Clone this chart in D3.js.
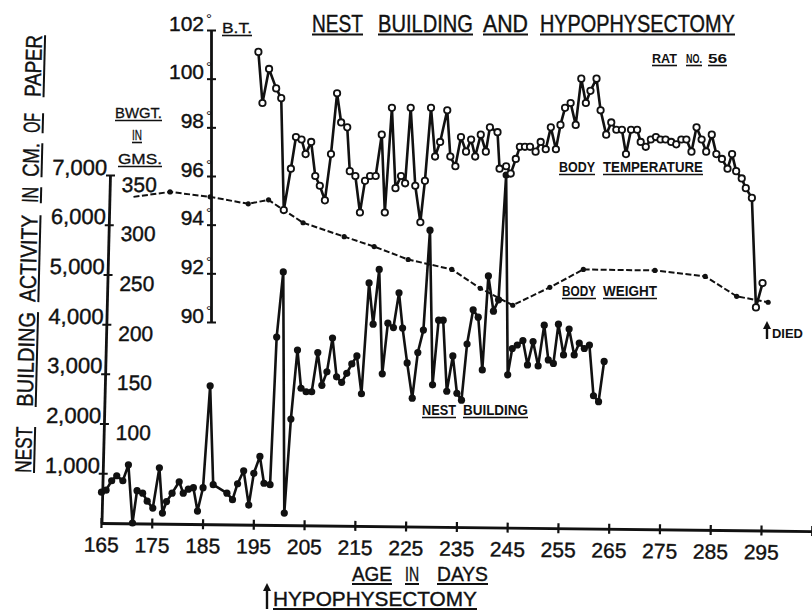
<!DOCTYPE html>
<html><head><meta charset="utf-8">
<script src="https://cdn.jsdelivr.net/npm/d3@7"></script>
<style>body{margin:0;background:#fff}svg{display:block}</style>
</head><body>
<svg id="c" width="812" height="611"></svg>
<script>
// ---------- DATA ----------
const nbDays = [165.1,166.0,167.1,168.1,169.3,170.4,171.2,172.1,173.2,174.1,
 175.2,176.5,177.1,177.9,179.0,180.4,181.2,182.2,183.2,184.0,
 185.1,186.5,187.1,189.8,190.9,191.9,193.1,194.1,195.1,196.3,
 197.1,198.3,199.6,200.9,201.1,202.4,203.7,204.4,205.4,206.5,
 207.7,208.5,209.5,210.6,211.4,212.4,213.4,214.4,215.4,216.3,
 217.8,218.6,219.8,220.4,221.5,222.6,223.7,224.4,225.3,226.3,
 227.4,228.5,229.8,230.3,231.5,232.4,233.1,234.3,235.1,236.0,
 237.1,238.3,239.3,240.1,241.3,242.3,243.3,244.8,245.1,246.0,
 247.0,248.1,249.0,250.1,251.1,252.3,253.1,254.1,255.1,256.1,
 257.2,258.2,259.2,260.2,261.2,262.0,263.0,264.1];
const nbValues = [620,660,850,950,850,1170,0,650,600,440,
 300,1110,200,430,600,830,600,680,710,240,
 710,2760,770,600,470,790,1050,360,1000,1340,
 800,770,3740,5050,200,2090,3480,2710,2640,2640,
 3430,2770,3040,3720,2940,2830,3010,3200,3360,2600,
 4830,4000,5100,3000,4020,3930,4630,3920,3220,2510,
 3430,3880,5890,2780,4080,4080,2650,3360,2610,2470,
 3600,4290,4140,3080,4970,4260,4490,7000,2980,3510,
 3580,3670,3180,3650,3160,3980,3280,3210,4000,3380,
 3900,3380,3620,3510,3580,2560,2440,3250];

const btDays = [196.0,196.8,198.1,199.5,200.5,201.0,202.4,203.4,204.5,205.3,
 206.4,207.2,208.1,209.1,210.3,211.5,212.3,213.5,214.0,215.1,
 216.0,217.0,218.0,219.1,220.3,220.9,222.3,223.0,224.1,224.9,
 226.0,226.9,227.9,228.8,230.0,230.8,231.8,233.2,233.8,234.8,
 235.9,236.9,237.9,238.7,239.8,240.8,241.6,243.1,243.5,244.8,
 245.7,246.7,247.5,248.5,249.5,250.6,251.6,252.6,253.6,254.6,
 255.5,256.4,257.5,258.5,259.6,260.5,261.4,262.6,263.4,264.5,
 265.5,266.5,267.6,268.4,269.4,270.6,271.3,272.3,273.3,274.3,
 275.2,276.2,277.3,278.3,279.3,280.3,281.3,282.3,283.3,284.2,
 285.3,286.2,287.3,288.4,289.3,290.1,291.2,292.0,293.2,294.0,
 295.3];
const btValues = [101.1,99.0,100.4,99.6,99.2,94.6,96.3,97.6,97.5,96.9,
 97.4,96.0,95.6,95.0,96.9,99.4,98.2,98.0,96.2,96.0,
 94.5,95.8,96.0,96.0,97.7,94.5,98.8,95.5,96.0,95.7,
 98.8,95.6,94.1,95.8,98.8,96.8,97.4,98.7,96.8,96.4,
 97.6,97.0,97.5,96.8,97.7,97.0,98.0,97.8,96.3,96.4,
 96.1,96.7,97.2,97.2,97.2,97.0,97.4,97.1,98.0,97.1,
 98.1,98.8,99.0,98.1,100.0,99.0,99.5,100.0,98.7,97.7,
 98.2,97.9,97.9,96.9,97.9,97.9,97.4,97.2,97.5,97.6,
 97.5,97.5,97.4,97.3,97.5,97.5,97.0,98.0,97.5,97.0,
 97.7,96.9,96.7,96.3,96.9,96.2,95.9,95.5,95.1,90.6,
 91.6];

const bwDays = [171.4,178.6,186.5,194.0,198.0,200.9,204.8,212.9,218.8,225.5,234.1,239.7,246.1,253.4,260.0,274.1,284.0,290.2,296.4];
const bwValues = [328,333,328,321,325,315,302,288,278,265,255,236,219,237,255,254,248,228,222];

const xTicks = [165,175,185,195,205,215,225,235,245,255,265,275,285,295,305];
const xTickLabels = ["165","175","185","195","205","215","225","235","245","255","265","275","285","295",""];
const nbTicks = [1000,2000,3000,4000,5000,6000,7000];
const bwTicks = [100,150,200,250,300,350];
const btTicks = [90,92,94,96,98,100,102];

// ---------- SETUP ----------
const FONT = "'Liberation Sans', Arial, sans-serif";
const INK = "#111";
const svg = d3.select("#c").style("font-family", FONT).attr("fill", INK);

const x = d3.scaleLinear().domain([165, 305]).range([101, 811.8]);
const yNB = d3.scaleLinear().domain([0, 7000]).range([523, 175]);
const yBW = d3.scaleLinear().domain([0, 350]).range([523, 175]);
const yBT = d3.scaleLinear().domain([90, 102]).range([322, 30]);

// word drawn at natural size, then scaled horizontally to fit [x0,x1]; underlined
function words(g, list, y, fs, weight, ul, sw) {
  list.forEach(([t, x0, x1]) => {
    const tx = g.append("text").attr("x", 0).attr("y", 0).attr("font-size", fs)
      .attr("font-weight", weight).attr("fill", INK)
      .attr("stroke", INK).attr("stroke-width", sw || 0).text(t);
    const w = tx.node().getComputedTextLength();
    tx.attr("transform", `translate(${x0},${y}) scale(${(x1 - x0) / w},1)`);
    g.append("line").attr("x1", x0).attr("x2", x1).attr("y1", y + ul).attr("y2", y + ul)
      .attr("stroke", INK).attr("stroke-width", fs > 18 ? 2 : 1.6);
  });
}

// ---------- X AXIS ----------
const xa = d3.scaleLinear().domain([165, 305]).range([0, 710.8]);
const gx = svg.append("g").attr("transform", "translate(101,523) rotate(0.65)")
  .call(d3.axisBottom(xa).tickValues(xTicks)
    .tickFormat((d, i) => xTickLabels[i]).tickSizeOuter(0).tickSizeInner(5));
gx.select(".domain").attr("stroke", INK).attr("stroke-width", 2.8);
gx.selectAll(".tick line").attr("y1", -5).attr("y2", 5).attr("stroke", INK).attr("stroke-width", 2.2);
gx.selectAll(".tick text").attr("y", 29).attr("dy", 0).attr("font-size", 21)
  .attr("font-family", FONT).attr("fill", INK).attr("stroke", INK).attr("stroke-width", 0.4);

// ---------- NEST BUILDING / BODY WEIGHT AXIS ----------
const yn = d3.scaleLinear().domain([0, 7000]).range([0, -348]);
const ybl = d3.scaleLinear().domain([0, 350]).range([0, -348]);
const gy = svg.append("g").attr("transform", "translate(101.5,523) skewX(-1.4)");
const gyA = gy.append("g").call(d3.axisLeft(yn).tickValues(nbTicks)
  .tickFormat(d3.format(",")).tickSizeOuter(0).tickSizeInner(4));
gyA.select(".domain").attr("stroke", INK).attr("stroke-width", 2.8);
gyA.selectAll(".tick line").attr("x1", -4).attr("x2", 5).attr("stroke", INK).attr("stroke-width", 2);
gyA.selectAll(".tick text").attr("x", -3).attr("y", -1).attr("dy", 0)
  .attr("font-size", 22).attr("font-family", FONT).attr("fill", INK)
  .attr("stroke", INK).attr("stroke-width", 0.4);
const gyB = gy.append("g").call(d3.axisRight(ybl).tickValues(bwTicks).tickSizeOuter(0).tickSizeInner(0));
gyB.select(".domain").remove();
gyB.selectAll(".tick text").attr("x", 12).attr("y", 16).attr("dy", 0)
  .attr("font-size", 21).attr("font-family", FONT).attr("fill", INK)
  .attr("stroke", INK).attr("stroke-width", 0.4);

// ---------- BODY TEMPERATURE AXIS ----------
const gt = svg.append("g").attr("transform", "translate(211,0)")
  .call(d3.axisLeft(yBT).tickValues(btTicks).tickSizeOuter(0).tickSizeInner(4));
gt.select(".domain").attr("stroke", INK).attr("stroke-width", 2.8);
gt.selectAll(".tick line").attr("x1", -4).attr("x2", 5).attr("stroke", INK).attr("stroke-width", 2);
gt.selectAll(".tick text").attr("x", -7).attr("y", 0).attr("dy", 0)
  .attr("font-size", 21).attr("font-family", FONT).attr("fill", INK)
  .attr("stroke", INK).attr("stroke-width", 0.4);
gt.selectAll(".tick").append("text").attr("x", -2).attr("y", -7)
  .attr("text-anchor", "middle").attr("font-size", 15).attr("fill", INK).text("°");

// ---------- SERIES ----------
const nb = nbDays.map((d, i) => [d, nbValues[i]]);
const bt = btDays.map((d, i) => [d, btValues[i]]);
const bw = bwDays.map((d, i) => [d, bwValues[i]]);

svg.append("path").datum(bw)
  .attr("d", d3.line().x(d => x(d[0])).y(d => yBW(d[1])))
  .attr("fill", "none").attr("stroke", INK).attr("stroke-width", 2)
  .attr("stroke-dasharray", "6,2.5");
svg.append("g").selectAll("circle").data(bw.slice(1)).join("circle")
  .attr("cx", d => x(d[0])).attr("cy", d => yBW(d[1])).attr("r", 2.6).attr("fill", INK);

svg.append("path").datum(nb)
  .attr("d", d3.line().x(d => x(d[0])).y(d => yNB(d[1])))
  .attr("fill", "none").attr("stroke", INK).attr("stroke-width", 2.6).attr("stroke-linejoin", "round");
svg.append("g").selectAll("circle").data(nb).join("circle")
  .attr("cx", d => x(d[0])).attr("cy", d => yNB(d[1])).attr("r", 3.6).attr("fill", INK);

svg.append("path").datum(bt)
  .attr("d", d3.line().x(d => x(d[0])).y(d => yBT(d[1])))
  .attr("fill", "none").attr("stroke", INK).attr("stroke-width", 2.6).attr("stroke-linejoin", "round");
svg.append("g").selectAll("circle").data(bt).join("circle")
  .attr("cx", d => x(d[0])).attr("cy", d => yBT(d[1])).attr("r", 3.2)
  .attr("fill", "#fff").attr("stroke", INK).attr("stroke-width", 1.8);

// ---------- TEXT ----------
const T = svg.append("g");
words(T, [["NEST", 312, 363], ["BUILDING", 378, 473], ["AND", 483, 528], ["HYPOPHYSECTOMY", 540, 735]], 31.5, 23, "normal", 3, 0.4);
words(T, [["RAT", 652, 677], ["NO.", 686, 702], ["56", 708, 727]], 63, 13, "bold", 2.5);
words(T, [["B.T.", 222, 252]], 33, 15, "normal", 2.5, 0.3);
words(T, [["BWGT.", 115, 162]], 118, 15, "normal", 2.5, 0.3);
words(T, [["IN", 132, 142]], 140, 15, "normal", 2.5, 0.3);
words(T, [["GMS.", 118, 162]], 164, 15, "normal", 2.5, 0.3);
words(T, [["BODY", 559, 595], ["TEMPERATURE", 603, 703]], 172, 14, "bold", 2.5);
words(T, [["BODY", 562, 596], ["WEIGHT", 603, 657]], 296, 15, "bold", 2.5);
words(T, [["NEST", 422, 456], ["BUILDING", 463, 528]], 415, 14, "bold", 2.5);
words(T, [["AGE", 352, 392], ["IN", 405, 419], ["DAYS", 437, 488]], 581, 21, "normal", 3, 0.4);
words(T, [["HYPOPHYSECTOMY", 273, 477]], 606, 21, "normal", 3, 0.4);
{
  const td = T.append("text").attr("font-size", 12).attr("font-weight", "bold").attr("fill", INK).text("DIED");
  const w = td.node().getComputedTextLength();
  td.attr("transform", `translate(772,338) scale(${31 / w},1)`);
}

// arrows
function upArrow(xp, y0, y1) {
  svg.append("line").attr("x1", xp).attr("x2", xp).attr("y1", y0).attr("y2", y1 + 6)
    .attr("stroke", INK).attr("stroke-width", 2.4);
  svg.append("path").attr("d", `M${xp - 4},${y1 + 8} L${xp},${y1} L${xp + 4},${y1 + 8} Z`).attr("fill", INK);
}
upArrow(767, 339, 321);
upArrow(267, 609, 583);

// rotated y title
const ty = svg.append("g").attr("transform", "translate(31,473) rotate(-88.55)");
words(ty, [["NEST", 0, 46], ["BUILDING", 66, 161], ["ACTIVITY", 171, 258], ["IN", 270, 286],
  ["CM.", 296, 330], ["OF", 340, 360], ["PAPER", 376, 438]], 0, 23, "normal", 3, 0.4);
</script>
</body></html>
